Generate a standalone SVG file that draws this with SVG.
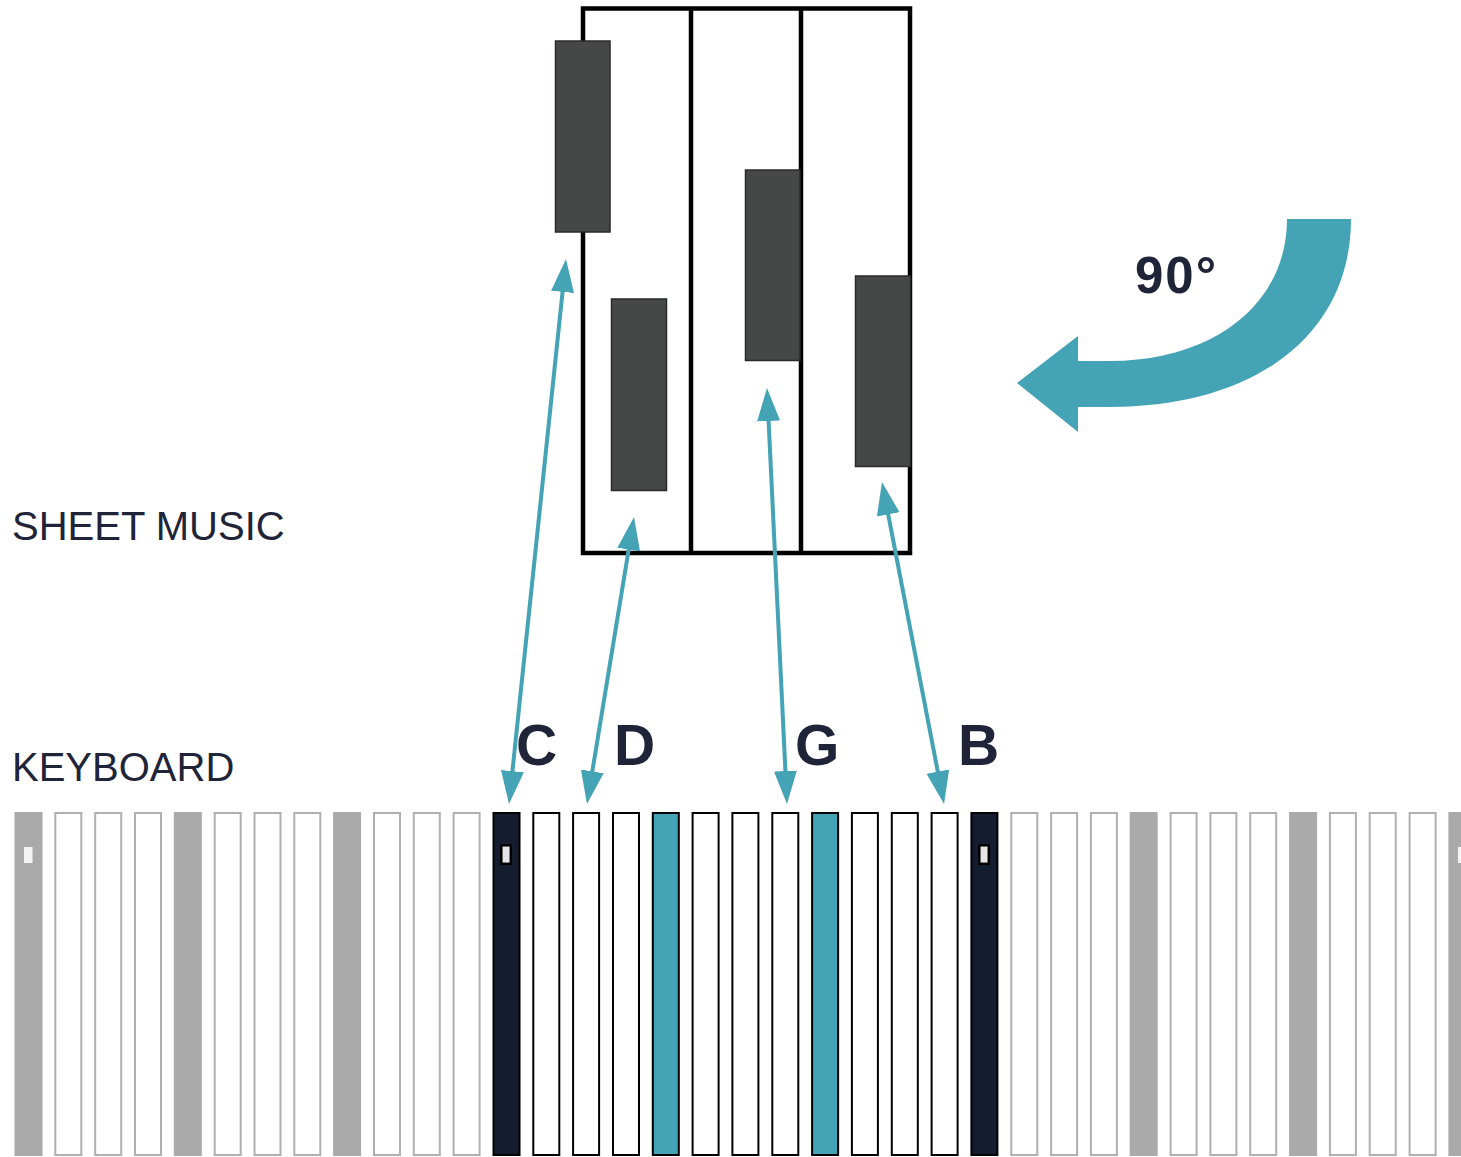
<svg xmlns="http://www.w3.org/2000/svg" width="1461" height="1157" viewBox="0 0 1461 1157">
<defs>
<style>
.lbl{font-family:"Liberation Sans",Arial,sans-serif;font-size:40px;fill:#1f2438}
.note{font-family:"Liberation Sans",Arial,sans-serif;font-weight:bold;font-size:57px;fill:#1f2438;letter-spacing:1px}
.kg{fill:#aaaaaa}
.kw{fill:#ffffff;stroke:#b0b0b0;stroke-width:2}
.kh{fill:#ffffff;stroke:#000;stroke-width:2}
.kd{fill:#141c2f;stroke:#000;stroke-width:2}
.kt{fill:#44a3b5;stroke:#000;stroke-width:2}
.mk{fill:#e6e6e6;stroke:#000;stroke-width:2.5}
.mg{fill:#f4f4f4}
.blk{fill:#464847;stroke:#2a2a2a;stroke-width:1.5}
.frame{fill:#fff;stroke:#000;stroke-width:4.5}
.conn{stroke:#44a3b5;stroke-width:4;fill:none;marker-start:url(#ah);marker-end:url(#ah)}
</style>
<marker id="ah" markerUnits="userSpaceOnUse" markerWidth="34" markerHeight="24" refX="10" refY="11.5" orient="auto-start-reverse" viewBox="0 0 34 23">
<path d="M0,0 L33,11.5 L0,23 z" fill="#44a3b5"/>
</marker>
</defs>
<rect width="1461" height="1157" fill="#fff"/>

<g id="label-sheet"><text class="lbl" x="12" y="540">SHEET MUSIC</text></g>
<g id="label-keyboard"><text class="lbl" x="12" y="781">KEYBOARD</text></g>

<g id="sheet-music">
<rect class="frame" x="583" y="8.5" width="327" height="544.5"/>
<line x1="691" y1="8.5" x2="691" y2="553" stroke="#000" stroke-width="4.5"/>
<line x1="801" y1="8.5" x2="801" y2="553" stroke="#000" stroke-width="4.5"/>
<rect class="blk" x="555.5" y="41" width="54.5" height="191"/>
<rect class="blk" x="611.5" y="299" width="55" height="191.5"/>
<rect class="blk" x="745.5" y="170" width="54.5" height="190.5"/>
<rect class="blk" x="855.5" y="276" width="55" height="190.5"/>
</g>

<g id="rotate-arrow">
<path d="M1287,219 L1351,219 C1351,335 1255,407 1110,407 L1078,407 L1078,432 L1017,383 L1078,336 L1078,361 L1110,361 C1212,361 1287,305 1287,219 Z" fill="#44a3b5"/>
<text x="1135" y="293" font-family="Liberation Sans,Arial,sans-serif" font-weight="bold" font-size="51" letter-spacing="2" fill="#1f2438">90°</text>
</g>

<g id="note-labels">
<text class="note" x="516" y="765">C</text>
<text class="note" x="614" y="765">D</text>
<text class="note" x="795" y="765">G</text>
<text class="note" x="958" y="765">B</text>
</g>

<g id="keyboard">
<rect class="kg" x="14.5" y="812" width="28" height="344"/>
<rect class="mg" x="24" y="847" width="8.5" height="16"/>
<rect class="kw" x="55.3" y="813" width="26" height="342"/>
<rect class="kw" x="95.2" y="813" width="26" height="342"/>
<rect class="kw" x="135" y="813" width="26" height="342"/>
<rect class="kg" x="173.8" y="812" width="28" height="344"/>
<rect class="kw" x="214.7" y="813" width="26" height="342"/>
<rect class="kw" x="254.5" y="813" width="26" height="342"/>
<rect class="kw" x="294.3" y="813" width="26" height="342"/>
<rect class="kg" x="333.1" y="812" width="28" height="344"/>
<rect class="kw" x="374" y="813" width="26" height="342"/>
<rect class="kw" x="413.8" y="813" width="26" height="342"/>
<rect class="kw" x="453.6" y="813" width="26" height="342"/>
<g id="key-c-low">
<rect class="kd" x="493.5" y="813" width="26" height="342"/>
<rect class="mk" x="501.3" y="845.3" width="9.5" height="18.5"/>
</g>
<rect class="kh" x="533.3" y="813" width="26" height="342"/>
<rect class="kh" x="573.1" y="813" width="26" height="342"/>
<rect class="kh" x="613" y="813" width="26" height="342"/>
<rect class="kt" x="652.8" y="813" width="26" height="342"/>
<rect class="kh" x="692.6" y="813" width="26" height="342"/>
<rect class="kh" x="732.4" y="813" width="26" height="342"/>
<rect class="kh" x="772.3" y="813" width="26" height="342"/>
<rect class="kt" x="812.1" y="813" width="26" height="342"/>
<rect class="kh" x="851.9" y="813" width="26" height="342"/>
<rect class="kh" x="891.8" y="813" width="26" height="342"/>
<rect class="kh" x="931.6" y="813" width="26" height="342"/>
<g id="key-c-high">
<rect class="kd" x="971.4" y="813" width="26" height="342"/>
<rect class="mk" x="979.3" y="845.3" width="9.5" height="18.5"/>
</g>
<rect class="kw" x="1011.3" y="813" width="26" height="342"/>
<rect class="kw" x="1051.1" y="813" width="26" height="342"/>
<rect class="kw" x="1090.9" y="813" width="26" height="342"/>
<rect class="kg" x="1129.7" y="812" width="28" height="344"/>
<rect class="kw" x="1170.6" y="813" width="26" height="342"/>
<rect class="kw" x="1210.4" y="813" width="26" height="342"/>
<rect class="kw" x="1250.2" y="813" width="26" height="342"/>
<rect class="kg" x="1289.1" y="812" width="28" height="344"/>
<rect class="kw" x="1329.9" y="813" width="26" height="342"/>
<rect class="kw" x="1369.7" y="813" width="26" height="342"/>
<rect class="kw" x="1409.6" y="813" width="26" height="342"/>
<rect class="kg" x="1448.4" y="812" width="28" height="344"/>
<rect class="mg" x="1457.9" y="847" width="8.5" height="16"/>
</g>

<g id="connectors">
<line class="conn" x1="563.6" y1="281.9" x2="511.4" y2="781.1"/>
<line class="conn" x1="630.3" y1="539.7" x2="590.7" y2="781.3"/>
<line class="conn" x1="768.1" y1="411" x2="785.9" y2="781"/>
<line class="conn" x1="886.3" y1="504.6" x2="939.7" y2="781.4"/>
</g>
</svg>
